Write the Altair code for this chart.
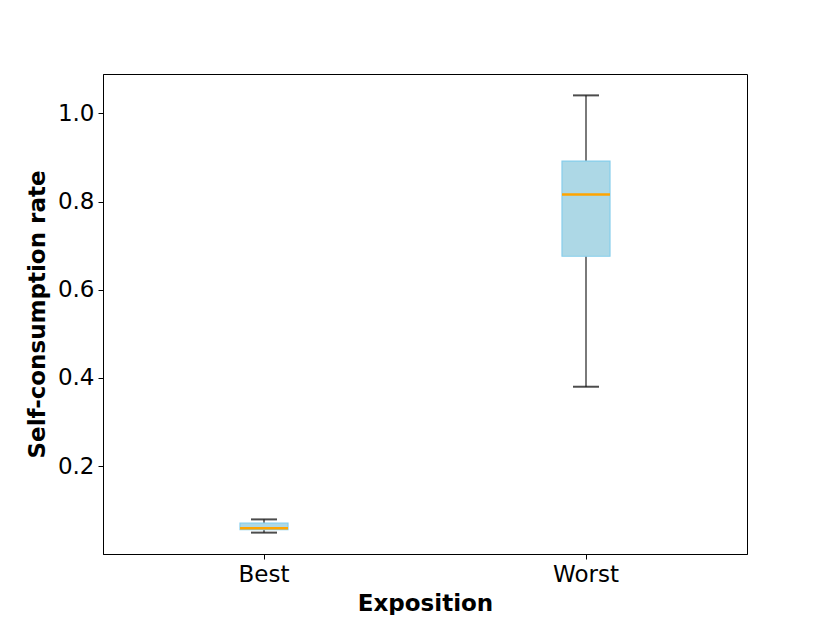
import altair as alt
import pandas as pd

categories = ["Best", "Worst"]
whisker_low = [0.049, 0.380]
q1 = [0.0557, 0.676]
median = [0.059, 0.816]
q3 = [0.0705, 0.892]
whisker_high = [0.079, 1.041]

df = pd.DataFrame({
    "cat": categories,
    "lo": whisker_low,
    "q1": q1,
    "med": median,
    "q3": q3,
    "hi": whisker_high,
})

x_enc = alt.X("cat:N", sort=categories,
              scale=alt.Scale(paddingInner=0, paddingOuter=0),
              axis=alt.Axis(title="Exposition", labelAngle=0))
y_scale = alt.Scale(domain=[0.0005, 1.0895], nice=False, zero=False)
y_axis = alt.Axis(title="Self-consumption rate", values=[0.2, 0.4, 0.6, 0.8, 1.0], format=".1f")

base = alt.Chart(df)

whisk_up = base.mark_rule(color="#7a7a7a", strokeWidth=2).encode(
    x=x_enc, y=alt.Y("q3:Q", scale=y_scale, axis=y_axis), y2="hi:Q")
whisk_dn = base.mark_rule(color="#7a7a7a", strokeWidth=2).encode(
    x=x_enc, y=alt.Y("lo:Q", scale=y_scale, axis=y_axis), y2="q1:Q")
box = base.mark_bar(size=48, color="#add8e6", stroke="#87ceeb", strokeWidth=1.2).encode(
    x=x_enc, y=alt.Y("q1:Q", scale=y_scale, axis=y_axis), y2="q3:Q")
cap_hi = base.mark_tick(color="black", size=26, thickness=2, orient="horizontal").encode(
    x=x_enc, y=alt.Y("hi:Q", scale=y_scale, axis=y_axis))
cap_lo = base.mark_tick(color="black", size=26, thickness=2, orient="horizontal").encode(
    x=x_enc, y=alt.Y("lo:Q", scale=y_scale, axis=y_axis))
med = base.mark_tick(color="orange", size=48, thickness=2.5, orient="horizontal", opacity=1).encode(
    x=x_enc, y=alt.Y("med:Q", scale=y_scale, axis=y_axis))

chart = alt.layer(whisk_up, whisk_dn, box, cap_hi, cap_lo, med).properties(
    width=644, height=480,
    autosize=alt.AutoSizeParams(type="none"),
    padding={"left": 95, "top": 66, "right": 75, "bottom": 61},
).configure_view(
    stroke="black", strokeWidth=1
).configure_axis(
    grid=False, domainColor="black", tickColor="black", labelColor="black",
    labelFont="DejaVu Sans", titleFont="DejaVu Sans",
    labelFontSize=23, titleFontSize=23, titleFontWeight="bold", titleColor="black",
    tickSize=5, labelPadding=4,
).configure_axisY(titlePadding=8).configure_axisX(titlePadding=6)

chart.save("out.html", embed_options={"renderer": "svg", "actions": False})
